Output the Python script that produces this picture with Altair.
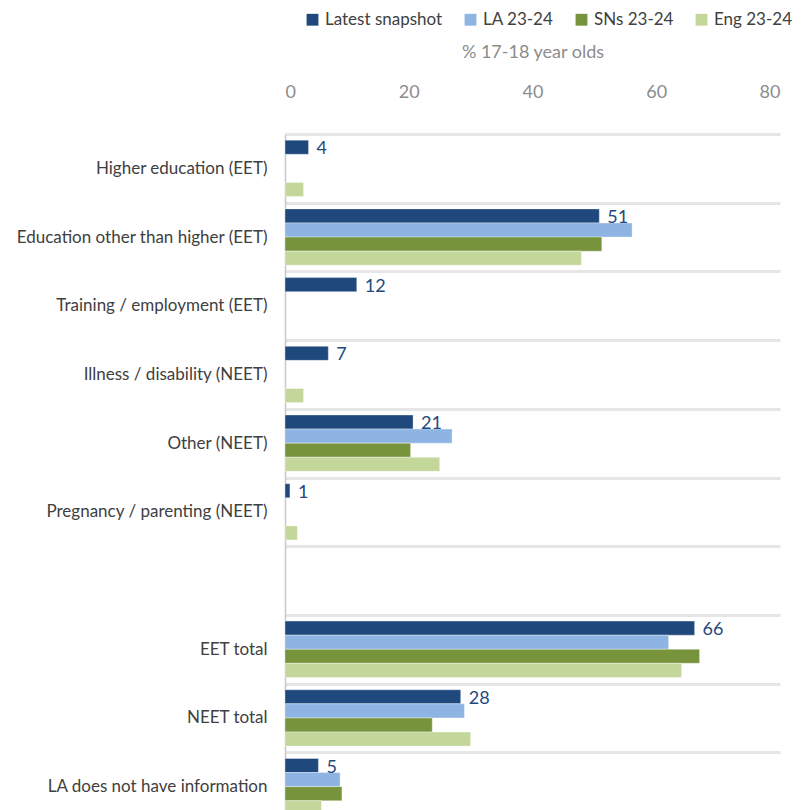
import altair as alt
import pandas as pd

categories = [
    "Higher education (EET)",
    "Education other than higher (EET)",
    "Training / employment (EET)",
    "Illness / disability (NEET)",
    "Other (NEET)",
    "Pregnancy / parenting (NEET)",
    " ",
    "EET total",
    "NEET total",
    "LA does not have information",
]
series_names = ["Latest snapshot", "LA 23-24", "SNs 23-24", "Eng 23-24"]
series_colors = ["#1F497D", "#8DB4E2", "#77933C", "#C4D79B"]

latest = [3.8, 50.8, 11.6, 7.0, 20.7, 0.8, None, 66.2, 28.4, 5.4]
la_2324 = [None, 56.1, None, None, 27.0, None, None, 62.0, 29.0, 8.9]
sns_2324 = [None, 51.2, None, None, 20.3, None, None, 67.0, 23.8, 9.2]
eng_2324 = [3.0, 47.9, None, 3.0, 25.0, 2.0, None, 64.1, 30.0, 5.9]

rows = []
for s, vals in zip(series_names, [latest, la_2324, sns_2324, eng_2324]):
    for c, v in zip(categories, vals):
        if v is not None:
            rows.append({"category": c, "series": s, "value": v})
df = pd.DataFrame(rows)

FONT = "Lato, Liberation Sans, sans-serif"

y_enc = alt.Y(
    "category:N",
    sort=categories,
    scale=alt.Scale(domain=categories, paddingInner=0, paddingOuter=0),
    axis=alt.Axis(
        title=None,
        ticks=False,
        grid=True,
        tickBand="extent",
        gridColor="#e6e6e6",
        gridWidth=3,
        domainColor="#c8c8c8",
        domainWidth=1.5,
        labelFont=FONT,
        labelFontSize=17,
        labelColor="#404040",
        labelPadding=18,
        labelLimit=300,
    ),
)
yoff_enc = alt.YOffset(
    "series:N",
    sort=series_names,
    scale=alt.Scale(domain=series_names, paddingInner=0, paddingOuter=0.44),
)

x_enc = alt.X(
    "value:Q",
    scale=alt.Scale(domain=[0, 80]),
    axis=alt.Axis(
        orient="top",
        values=[0, 20, 40, 60, 80],
        title="% 17-18 year olds",
        titleFont=FONT,
        titleFontSize=18,
        titleFontWeight="normal",
        titleColor="#8c8c8c",
        titlePadding=22,
        labelFont=FONT,
        labelFontSize=18,
        labelColor="#8c8c8c",
        labelPadding=33,
        ticks=False,
        domain=False,
        grid=False,
    ),
)

bars = alt.Chart(df).mark_bar(stroke="white", strokeWidth=0.6, strokeOpacity=0.6).encode(
    x=x_enc,
    y=y_enc,
    yOffset=yoff_enc,
    color=alt.Color(
        "series:N",
        sort=series_names,
        scale=alt.Scale(domain=series_names, range=series_colors),
        legend=alt.Legend(
            title=None,
            orient="none",
            direction="horizontal",
            columns=4,
            legendX=19,
            legendY=-123,
            symbolType="square",
            symbolSize=140,
            symbolStrokeWidth=0,
            labelFont=FONT,
            labelFontSize=17,
            labelColor="#404040",
            labelOffset=4,
            columnPadding=19,
            labelLimit=300,
        ),
    ),
)

labels = (
    alt.Chart(df)
    .transform_filter(alt.datum.series == "Latest snapshot")
    .mark_text(align="left", baseline="middle", dx=8, dy=2, font=FONT, fontSize=18, color="#1F497D")
    .encode(
        x=alt.X("value:Q"),
        y=alt.Y("category:N", sort=categories),
        yOffset=alt.YOffset("series:N", sort=series_names),
        text=alt.Text("value:Q", format=".0f"),
    )
)

chart = (
    alt.layer(bars, labels)
    .properties(
        width=495,
        height=687,
        autosize=alt.AutoSizeParams(type="none"),
        padding={"left": 277, "top": 126, "right": 14, "bottom": 10},
    )
    .configure_view(stroke=None)
)

chart.save("out.html", embed_options={"renderer": "svg", "actions": False})
